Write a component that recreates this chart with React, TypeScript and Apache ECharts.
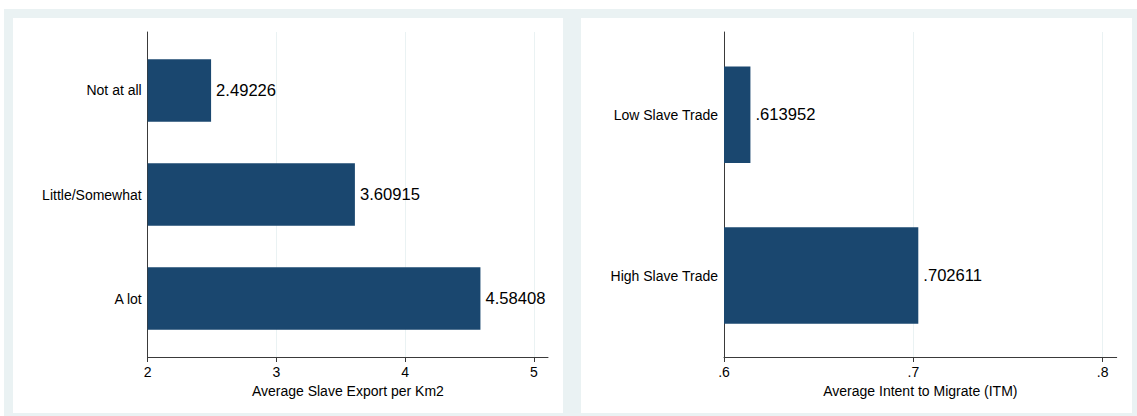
import React, { useEffect, useRef } from "react";
import * as echarts from "echarts";

// Left panel: slave exports by how much people trust others
const trustCategories = ["Not at all", "Little/Somewhat", "A lot"];
const slaveExportValues = [2.49226, 3.60915, 4.58408];
const exportTicks = [2, 3, 4, 5];

// Right panel: intent to migrate by slave trade intensity
const tradeCategories = ["Low Slave Trade", "High Slave Trade"];
const itmValues = [0.613952, 0.702611];
const itmTicks = [0.6, 0.7, 0.8];

const BAR_COLOR = "#1a476f";
const GRID_COLOR = "#eaf2f3";
const AXIS_COLOR = "#3a3a3a";
const FONT = "Liberation Sans, Arial, Helvetica, sans-serif";

const noLeadingZero = (v: number) => String(v).replace(/^0\./, ".");

export default function App() {
  const ref = useRef<HTMLDivElement>(null);

  useEffect(() => {
    if (!ref.current) return;
    const chart = echarts.init(ref.current, undefined, { renderer: "svg" });

    const W = 1137;
    const H = 416;

    // frame grids hold the drawn axes, bar grids hold the bars and category labels
    const leftFrame = { left: 147.7, right: W - 548, top: 32, bottom: H - 357 };
    const leftBars = { left: 147.7, right: W - 548, top: 38.4, bottom: H - 350.6 };
    const rightFrame = { left: 724, right: W - 1116.7, top: 32, bottom: H - 357 };
    const rightBars = { left: 724, right: W - 1116.7, top: 34.3, bottom: H - 355.9 };

    const leftMax = 5 + (548 - 534) / 128.7;
    const rightMax = 0.8 + (1116.7 - 1102.7) / 1895;

    const frameX = (min: number, max: number, ticks: number[], name: string, fmt: (v: number) => string, gridIndex: number) => ({
      type: "value",
      gridIndex,
      min,
      max,
      name,
      nameLocation: "middle",
      nameGap: 22,
      nameTextStyle: { fontFamily: FONT, fontSize: 14, color: "#000" },
      axisLine: { show: true, lineStyle: { color: AXIS_COLOR, width: 1 } },
      axisTick: { show: true, length: 5, customValues: ticks, lineStyle: { color: AXIS_COLOR } },
      axisLabel: {
        show: true,
        customValues: ticks,
        margin: 8,
        fontFamily: FONT,
        fontSize: 14,
        color: "#000",
        formatter: (v: number) => fmt(v),
      },
      splitLine: { show: true, lineStyle: { color: GRID_COLOR, width: 1 } },
    });

    const frameY = (gridIndex: number) => ({
      type: "value",
      gridIndex,
      min: 0,
      max: 1,
      axisLine: { show: true, lineStyle: { color: AXIS_COLOR, width: 1 } },
      axisTick: { show: false },
      axisLabel: { show: false },
      splitLine: { show: false },
    });

    const hiddenX = (min: number, max: number, gridIndex: number) => ({
      type: "value",
      gridIndex,
      min,
      max,
      show: false,
      splitLine: { show: false },
    });

    const catY = (cats: string[], gridIndex: number) => ({
      type: "category",
      gridIndex,
      data: cats,
      inverse: true,
      axisLine: { show: false },
      axisTick: { show: false },
      splitLine: { show: false },
      axisLabel: { margin: 6, fontFamily: FONT, fontSize: 14, color: "#000", padding: [2, 0, 0, 0] },
    });

    const barLabel = (fmt: (v: number) => string) => ({
      show: true,
      position: "right",
      distance: 5,
      fontFamily: FONT,
      fontSize: 16.6,
      color: "#000",
      padding: [2, 0, 0, 0],
      formatter: (p: any) => fmt(p.value),
    });

    chart.setOption({
      animation: false,
      backgroundColor: "#ffffff",
      graphic: [
        { type: "rect", z: -10, shape: { x: 4, y: 9, width: W - 4, height: H - 9 }, style: { fill: GRID_COLOR } },
        { type: "rect", z: -9, shape: { x: 13, y: 18, width: 550, height: 395 }, style: { fill: "#ffffff" } },
        { type: "rect", z: -9, shape: { x: 581, y: 18, width: 551, height: 395 }, style: { fill: "#ffffff" } },
      ],
      grid: [leftFrame, leftBars, rightFrame, rightBars],
      xAxis: [
        frameX(2, leftMax, exportTicks, "Average Slave Export per Km2", (v) => String(v), 0),
        hiddenX(2, leftMax, 1),
        frameX(0.6, rightMax, itmTicks, "Average Intent to Migrate (ITM)", noLeadingZero, 2),
        hiddenX(0.6, rightMax, 3),
      ],
      yAxis: [frameY(0), catY(trustCategories, 1), frameY(2), catY(tradeCategories, 3)],
      series: [
        {
          type: "bar",
          xAxisIndex: 1,
          yAxisIndex: 1,
          data: slaveExportValues,
          barCategoryGap: "40%",
          itemStyle: { color: BAR_COLOR },
          label: barLabel((v) => String(v)),
        },
        {
          type: "bar",
          xAxisIndex: 3,
          yAxisIndex: 3,
          data: itmValues,
          barCategoryGap: "40%",
          itemStyle: { color: BAR_COLOR },
          label: barLabel(noLeadingZero),
        },
      ],
    });

    return () => chart.dispose();
  }, []);

  return (
    <div
      ref={ref}
      style={{ position: "absolute", left: 0, top: 0, width: 1137, height: 416 }}
    />
  );
}
